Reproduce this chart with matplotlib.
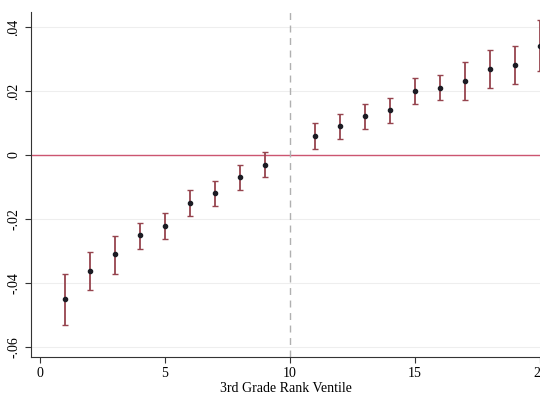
import numpy as np
import matplotlib.pyplot as plt

plt.rcParams['font.family'] = ['Liberation Serif', 'DejaVu Serif']

# ventile, point estimate, CI bounds
ventile = [1, 2, 3, 4, 5, 6, 7, 8, 9, 11, 12, 13, 14, 15, 16, 17, 18, 19, 20]
coef = [-0.0451, -0.0362, -0.0310, -0.0251, -0.0221, -0.0150, -0.0120, -0.0069, -0.0030,
        0.0060, 0.0090, 0.0121, 0.0140, 0.0200, 0.0210, 0.0230, 0.0270, 0.0280, 0.0341]
ci_lo = [-0.0531, -0.0422, -0.0371, -0.0292, -0.0262, -0.0190, -0.0160, -0.0110, -0.0069,
         0.0020, 0.0051, 0.0080, 0.0100, 0.0160, 0.0171, 0.0171, 0.0210, 0.0221, 0.0262]
ci_hi = [-0.0373, -0.0302, -0.0252, -0.0213, -0.0182, -0.0110, -0.0080, -0.0030, 0.0008,
         0.0099, 0.0129, 0.0159, 0.0179, 0.0240, 0.0250, 0.0291, 0.0329, 0.0340, 0.0421]

xticks = [0, 5, 10, 15, 20]
yticks = [-0.06, -0.04, -0.02, 0, 0.02, 0.04]
ylabels = ['-.06', '-.04', '-.02', '0', '.02', '.04']

coef = np.array(coef)
err = [coef - np.array(ci_lo), np.array(ci_hi) - coef]

fig = plt.figure(figsize=(5.4, 3.96), dpi=100)
ax = fig.add_axes([31/540, 1 - 357/396, 1 - 31/540 + 0.001, (357 - 12)/396])

for y in yticks:
    ax.axhline(y, color='#eeeeee', lw=0.8, zorder=0)
ax.axhline(0, color='#cc5570', lw=1.0, zorder=1)
ax.axvline(10, color='#b0b0b0', lw=1.0, ls=(0, (5, 4)), zorder=1)

ax.errorbar(ventile, coef, yerr=err, fmt='o', color='#1c1c24', ms=3,
            ecolor='#96444e', elinewidth=1.3, capsize=2, capthick=1.0, zorder=3)

ax.set_xlim(-0.36, 20.02)
ax.set_ylim(-0.0631, 0.0447)
ax.set_xticks(xticks)
ax.set_yticks(yticks)
ax.set_yticklabels(ylabels, rotation=90, va='center')
ax.tick_params(labelsize=10, length=4, color='#333333', width=0.8)
ax.spines['top'].set_visible(False)
ax.spines['right'].set_visible(False)
ax.spines['left'].set_color('#333333')
ax.spines['bottom'].set_color('#333333')
ax.set_xlabel('3rd Grade Rank Ventile', fontsize=10, labelpad=1)

fig.savefig('out.png', dpi=100)
